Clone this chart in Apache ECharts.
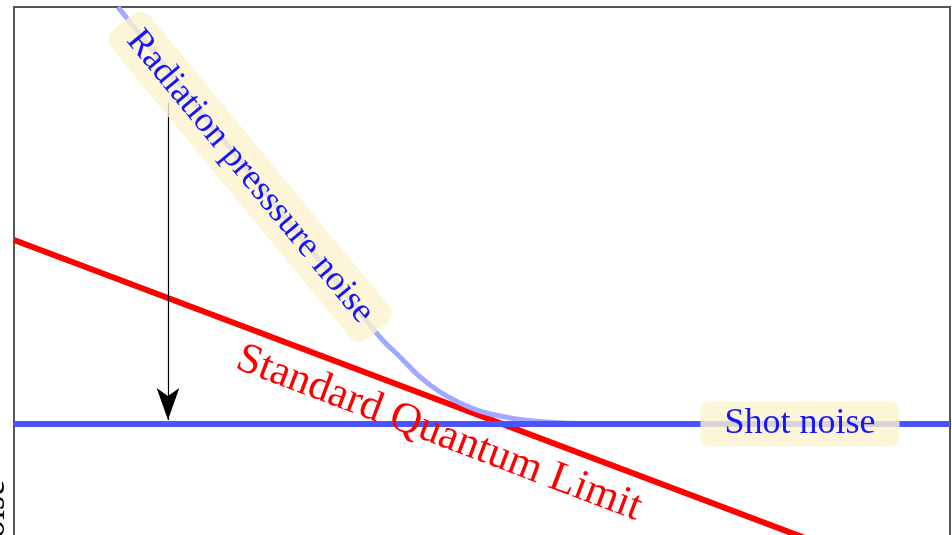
<!DOCTYPE html>
<html>
<head>
<meta charset="utf-8">
<script src="https://cdn.jsdelivr.net/npm/echarts@6/dist/echarts.min.js"></script>
<style>
  html, body { margin: 0; padding: 0; background: #fff; }
  #chart { width: 952px; height: 535px; }
</style>
</head>
<body>
<div id="chart"></div>
<script>
// Quantum noise budget, log-log units (arbitrary): x = log frequency, y = log noise
const shotX = [0, 10];
const shotY = [2.823, 2.823];

const sqlX = [0, 8.5];
const sqlY = [5.99, 0.83];

// total noise: radiation pressure dominates at low frequency, joins shot noise
const totalX = [1.111, 2.521, 3.056, 3.590, 3.910, 4.124, 4.338, 4.551, 4.765, 4.979, 5.192, 5.406, 5.694, 6.015, 6.474];
const totalY = [10.0, 7.143, 6.059, 4.974, 4.320, 3.976, 3.632, 3.373, 3.184, 3.046, 2.960, 2.900, 2.857, 2.831, 2.823];

// squeezing arrow: from the radiation-pressure level down to shot noise
const arrowX = [1.645, 1.645];
const arrowY = [8.348, 2.89];

const labelTexts = {
  radiation: 'Radiation presssure noise',
  sql: 'Standard Quantum Limit',
  shot: 'Shot noise',
  yName: 'Noise'
};
// anchor points of the labels, in data units
const radiationAnchor = [2.521, 7.08];
const sqlAnchor = [4.54, 2.66];
const shotAnchor = [8.397, 2.823];

const zip = (xs, ys) => xs.map((x, i) => [x, ys[i]]);

const chart = echarts.init(document.getElementById('chart'), null, { renderer: 'canvas' });

const serif = '"Liberation Serif", "DejaVu Serif", serif';

chart.setOption({
  animation: false,
  grid: {
    left: 14, right: 2, top: 7, bottom: -53,
    outerBoundsMode: 'none', containLabel: false,
    show: true, borderColor: '#555', borderWidth: 2, backgroundColor: 'transparent'
  },
  xAxis: { type: 'value', min: 0, max: 10, show: false },
  yAxis: { type: 'value', min: 0, max: 10, show: false },
  series: [
    {
      name: 'Standard Quantum Limit', type: 'line', data: zip(sqlX, sqlY),
      symbol: 'none', lineStyle: { color: '#ff0000', width: 6 }, z: 2
    },
    {
      name: 'Total noise', type: 'line', data: zip(totalX, totalY),
      symbol: 'none', smooth: 0.4,
      lineStyle: { color: '#a0a8ff', width: 5 }, z: 3
    },
    {
      name: 'Shot noise', type: 'line', data: zip(shotX, shotY),
      symbol: 'none', lineStyle: { color: '#4a55ff', width: 6 }, z: 4,
      markLine: {
        silent: true,
        symbol: ['none', 'arrow'],
        symbolSize: [17, 32],
        label: { show: false },
        lineStyle: { color: '#000', width: 1.2, type: 'solid' },
        data: [[{ coord: [arrowX[0], arrowY[0]] }, { coord: [arrowX[1], arrowY[1]] }]]
      }
    }
  ]
});

// labels placed at their data anchors
const px = p => chart.convertToPixel({ gridIndex: 0 }, p);
const rp = px(radiationAnchor);
const sq = px(sqlAnchor);
const sh = px(shotAnchor);
const deg = Math.PI / 180;

chart.setOption({
  graphic: [
    {
      type: 'text', x: rp[0], y: rp[1], rotation: -50.5 * deg, z: 10,
      style: {
        text: labelTexts.radiation, font: '36px ' + serif, fill: '#1414ff',
        align: 'center', verticalAlign: 'middle',
        backgroundColor: 'rgba(252,242,205,0.8)', padding: [5, 16], borderRadius: 12,
        lineHeight: 40
      }
    },
    {
      type: 'text', x: sq[0], y: sq[1], rotation: -20.8 * deg, z: 10,
      style: {
        text: labelTexts.sql, font: '43px ' + serif, fill: '#ff0000',
        align: 'center', verticalAlign: 'middle'
      }
    },
    {
      type: 'text', x: sh[0], y: sh[1], z: 10,
      style: {
        text: labelTexts.shot, font: '36px ' + serif, fill: '#1414ff',
        align: 'center', verticalAlign: 'middle',
        backgroundColor: 'rgba(252,242,205,0.8)', padding: [7, 24, 0, 24], borderRadius: 8,
        lineHeight: 37
      }
    },
    {
      type: 'text', x: 13, y: 480, rotation: 90 * deg, z: 10,
      style: {
        text: labelTexts.yName, font: '36px ' + serif, fill: '#000',
        align: 'right', verticalAlign: 'bottom'
      }
    }
  ]
});
</script>
</body>
</html>
